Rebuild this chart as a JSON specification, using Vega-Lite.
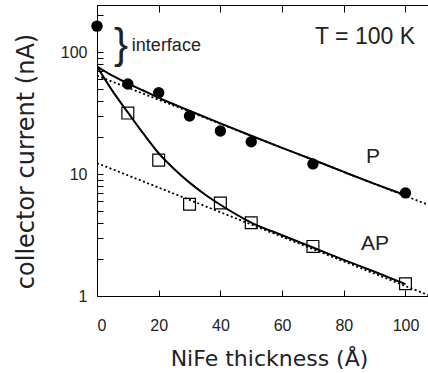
{
  "$schema": "https://vega.github.io/schema/vega-lite/v6.json",
  "width": 331,
  "height": 291,
  "autosize": {"type": "none"},
  "padding": {"left": 97, "top": 5, "right": 0, "bottom": 77},
  "background": "white",
  "config": {
    "view": {"stroke": null},
    "axis": {
      "domainColor": "black",
      "domainWidth": 1,
      "tickColor": "black",
      "tickWidth": 1,
      "labelFont": "Liberation Sans",
      "labelFontSize": 16,
      "labelColor": "#222",
      "titleFont": "DejaVu Sans",
      "titleFontWeight": "normal",
      "titleColor": "#222",
      "grid": false
    }
  },
  "datasets": {
    "points": [
      {"set": "P", "x": 0, "y": 163},
      {"set": "P", "x": 10, "y": 54.7},
      {"set": "P", "x": 20, "y": 46.4},
      {"set": "P", "x": 30, "y": 29.9},
      {"set": "P", "x": 40, "y": 22.5},
      {"set": "P", "x": 50, "y": 18.4},
      {"set": "P", "x": 70, "y": 12.1},
      {"set": "P", "x": 100, "y": 7.0},
      {"set": "AP", "x": 10, "y": 31.6},
      {"set": "AP", "x": 20, "y": 13.0},
      {"set": "AP", "x": 30, "y": 5.65},
      {"set": "AP", "x": 40, "y": 5.78},
      {"set": "AP", "x": 50, "y": 3.99},
      {"set": "AP", "x": 70, "y": 2.55},
      {"set": "AP", "x": 100, "y": 1.26}
    ],
    "curves": [
      {"curve": "P fit", "kind": "solid", "x": 0, "y": 76},
      {"curve": "P fit", "kind": "solid", "x": 5, "y": 64},
      {"curve": "P fit", "kind": "solid", "x": 10, "y": 55.2},
      {"curve": "P fit", "kind": "solid", "x": 15, "y": 48.4},
      {"curve": "P fit", "kind": "solid", "x": 20, "y": 42.2},
      {"curve": "P fit", "kind": "solid", "x": 30, "y": 33},
      {"curve": "P fit", "kind": "solid", "x": 40, "y": 26},
      {"curve": "P fit", "kind": "solid", "x": 50, "y": 20.6},
      {"curve": "P fit", "kind": "solid", "x": 60, "y": 16.4},
      {"curve": "P fit", "kind": "solid", "x": 70, "y": 13.1},
      {"curve": "P fit", "kind": "solid", "x": 80, "y": 10.4},
      {"curve": "P fit", "kind": "solid", "x": 90, "y": 8.3},
      {"curve": "P fit", "kind": "solid", "x": 100, "y": 6.7},
      {"curve": "AP fit", "kind": "solid", "x": 0, "y": 76},
      {"curve": "AP fit", "kind": "solid", "x": 5, "y": 48},
      {"curve": "AP fit", "kind": "solid", "x": 10, "y": 32},
      {"curve": "AP fit", "kind": "solid", "x": 15, "y": 21.5},
      {"curve": "AP fit", "kind": "solid", "x": 20, "y": 14.8},
      {"curve": "AP fit", "kind": "solid", "x": 25, "y": 11},
      {"curve": "AP fit", "kind": "solid", "x": 30, "y": 8.5},
      {"curve": "AP fit", "kind": "solid", "x": 35, "y": 6.8},
      {"curve": "AP fit", "kind": "solid", "x": 40, "y": 5.6},
      {"curve": "AP fit", "kind": "solid", "x": 50, "y": 4.0},
      {"curve": "AP fit", "kind": "solid", "x": 60, "y": 3.15},
      {"curve": "AP fit", "kind": "solid", "x": 70, "y": 2.5},
      {"curve": "AP fit", "kind": "solid", "x": 80, "y": 1.98},
      {"curve": "AP fit", "kind": "solid", "x": 90, "y": 1.58},
      {"curve": "AP fit", "kind": "solid", "x": 100, "y": 1.25},
      {"curve": "P bulk", "kind": "dotted", "x": 0, "y": 64},
      {"curve": "P bulk", "kind": "dotted", "x": 107.3, "y": 5.6},
      {"curve": "AP bulk", "kind": "dotted", "x": 0, "y": 12.3},
      {"curve": "AP bulk", "kind": "dotted", "x": 107.3, "y": 1.02}
    ],
    "notes": [
      {"label": "}", "x": 7.8, "y": 114},
      {"label": "interface", "x": 11.3, "y": 112},
      {"label": "T = 100 K", "x": 70.7, "y": 133},
      {"label": "P", "x": 89.5, "y": 13.7},
      {"label": "AP", "x": 90.1, "y": 2.67}
    ]
  },
  "encoding": {
    "y": {
      "field": "y",
      "type": "quantitative",
      "scale": {"type": "log", "domain": [1, 243], "nice": false},
      "axis": {
        "orient": "left",
        "title": "collector current (nA)",
        "titleFontSize": 24,
        "titleAngle": -90,
        "titleAlign": "center",
        "titleBaseline": "alphabetic",
        "titleX": -64,
        "titleY": 156,
        "values": [1, 2, 3, 4, 5, 6, 7, 8, 9, 10, 20, 30, 40, 50, 60, 70, 80, 90, 100, 200],
        "labelExpr": "datum.value == 1 || datum.value == 10 || datum.value == 100 ? datum.label : ''",
        "tickSize": -6,
        "labelPadding": 16
      }
    }
  },
  "resolve": {"axis": {"x": "independent"}},
  "layer": [
    {
      "data": {"name": "curves"},
      "transform": [{"filter": "datum.kind == 'dotted'"}],
      "mark": {"type": "line", "color": "black", "strokeWidth": 1.8, "strokeDash": [2, 2.5], "clip": true},
      "encoding": {
        "x": {
          "field": "x",
          "type": "quantitative",
          "scale": {"domain": [0, 107.3], "nice": false, "zero": false},
          "axis": {
            "orient": "bottom",
            "title": "NiFe thickness (Å)",
            "titleFontSize": 22,
            "titleAlign": "center",
            "titleBaseline": "alphabetic",
            "titleX": 172,
            "titleY": 69,
            "values": [0, 20, 40, 60, 80, 100],
            "tickSize": -6,
            "labelPadding": 27
          }
        },
        "detail": {"field": "curve"}
      }
    },
    {
      "data": {"name": "curves"},
      "transform": [{"filter": "datum.kind == 'solid'"}],
      "mark": {"type": "line", "color": "black", "strokeWidth": 2, "interpolate": "monotone", "clip": true},
      "encoding": {
        "x": {
          "field": "x",
          "type": "quantitative",
          "scale": {"domain": [0, 107.3], "nice": false, "zero": false},
          "axis": {
            "orient": "top",
            "title": null,
            "labels": false,
            "values": [0, 20, 40, 60, 80, 100],
            "tickSize": -7
          }
        },
        "detail": {"field": "curve"}
      }
    },
    {
      "data": {"name": "points"},
      "transform": [{"filter": "datum.set == 'P'"}],
      "mark": {"type": "point", "shape": "circle", "filled": true, "size": 130, "color": "black", "opacity": 1},
      "encoding": {
        "x": {"field": "x", "type": "quantitative", "scale": {"domain": [0, 107.3], "nice": false, "zero": false}, "axis": null}
      }
    },
    {
      "data": {"name": "points"},
      "transform": [{"filter": "datum.set == 'AP'"}],
      "mark": {"type": "point", "shape": "square", "filled": false, "size": 140, "stroke": "black", "strokeWidth": 1.2, "opacity": 1},
      "encoding": {
        "x": {"field": "x", "type": "quantitative", "scale": {"domain": [0, 107.3], "nice": false, "zero": false}, "axis": null}
      }
    },
    {
      "data": {"name": "notes"},
      "transform": [{"filter": "datum.label == '}'"}],
      "mark": {"type": "text", "font": "Liberation Sans", "fontSize": 42, "align": "center", "baseline": "middle", "color": "#222"},
      "encoding": {
        "x": {"field": "x", "type": "quantitative", "scale": {"domain": [0, 107.3], "nice": false, "zero": false}, "axis": null},
        "text": {"field": "label"}
      }
    },
    {
      "data": {"name": "notes"},
      "transform": [{"filter": "datum.label == 'interface'"}],
      "mark": {"type": "text", "font": "Liberation Sans", "fontSize": 18, "align": "left", "baseline": "middle", "color": "#222"},
      "encoding": {
        "x": {"field": "x", "type": "quantitative", "scale": {"domain": [0, 107.3], "nice": false, "zero": false}, "axis": null},
        "text": {"field": "label"}
      }
    },
    {
      "data": {"name": "notes"},
      "transform": [{"filter": "datum.label == 'T = 100 K'"}],
      "mark": {"type": "text", "font": "Liberation Sans", "fontSize": 23, "align": "left", "baseline": "middle", "color": "#222"},
      "encoding": {
        "x": {"field": "x", "type": "quantitative", "scale": {"domain": [0, 107.3], "nice": false, "zero": false}, "axis": null},
        "text": {"field": "label"}
      }
    },
    {
      "data": {"name": "notes"},
      "transform": [{"filter": "datum.label == 'P' || datum.label == 'AP'"}],
      "mark": {"type": "text", "font": "Liberation Sans", "fontSize": 21, "align": "center", "baseline": "middle", "color": "#222"},
      "encoding": {
        "x": {"field": "x", "type": "quantitative", "scale": {"domain": [0, 107.3], "nice": false, "zero": false}, "axis": null},
        "text": {"field": "label"}
      }
    }
  ]
}
